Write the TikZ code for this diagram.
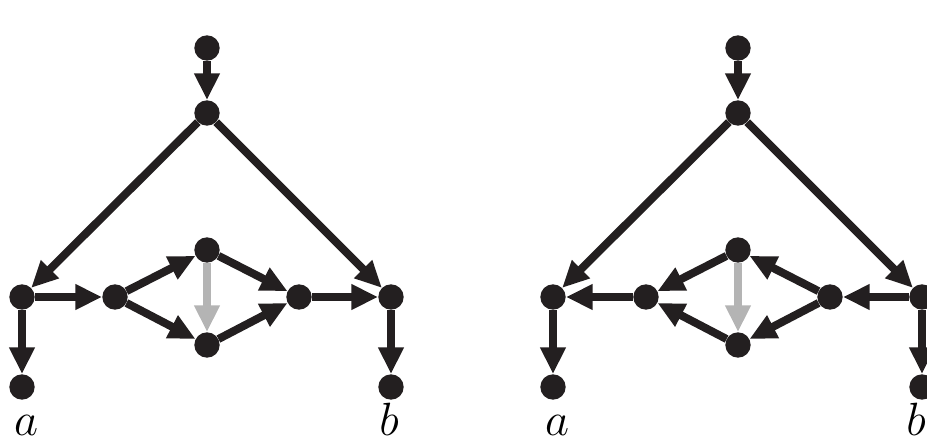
\documentclass[tikz,border=0pt]{standalone}
\usepackage{tikz}
\usetikzlibrary{arrows.meta,positioning}
\usepackage{xcolor}
\definecolor{ink}{RGB}{35,31,32}
\definecolor{greyline}{RGB}{180,180,180}

\begin{document}
\begin{tikzpicture}[
    x=0.03cm, y=-0.03cm,
    dot/.style={circle, fill=ink, inner sep=0pt, minimum size=0.76cm},
    edge/.style={draw=ink, line width=0.24cm, -{Triangle[length=0.8cm, width=0.72cm]}},
    greyedge/.style={edge, draw=greyline, -{Triangle[length=0.8cm, width=0.72cm, color=greyline]}},
    lbl/.style={anchor=base, inner sep=0pt, font=\Huge, scale=1.6}
]
\clip (0,0) rectangle (927,442);
\useasboundingbox (0,0) rectangle (927,442);

% Left graph
\node (top1) [dot] at (207,48) {};
\node (hub1) [dot] at (207,113) {};
\node (left1) [dot] at (22,297) {};
\node (right1) [dot] at (391,297) {};
\node (inl1) [dot] at (115,297) {};
\node (inr1) [dot] at (299,297) {};
\node (int1) [dot] at (207,250) {};
\node (inb1) [dot] at (207,345) {};
\node (a1) [dot] at (22,387) {};
\node (b1) [dot] at (391,387) {};
\node [lbl] at (26,435) {$a$};
\node [lbl] at (389,435) {$b$};

\draw[edge] (top1) -- (hub1);
\draw[edge] (hub1) -- (left1);
\draw[edge] (hub1) -- (right1);
\draw[edge] (left1) -- (inl1);
\draw[edge] (inl1) -- (int1);
\draw[edge] (inl1) -- (inb1);
\draw[edge] (int1) -- (inr1);
\draw[edge] (inb1) -- (inr1);
\draw[edge] (inr1) -- (right1);
\draw[greyedge] (int1) -- (inb1);
\draw[edge] (left1) -- (a1);
\draw[edge] (right1) -- (b1);

% Right graph
\node (top2) [dot] at (738,48) {};
\node (hub2) [dot] at (738,113) {};
\node (left2) [dot] at (553,297) {};
\node (right2) [dot] at (922,297) {};
\node (inl2) [dot] at (646,297) {};
\node (inr2) [dot] at (830,297) {};
\node (int2) [dot] at (738,250) {};
\node (inb2) [dot] at (738,345) {};
\node (a2) [dot] at (553,387) {};
\node (b2) [dot] at (922,387) {};
\node [lbl] at (557,435) {$a$};
\node [lbl] at (916,435) {$b$};

\draw[edge] (top2) -- (hub2);
\draw[edge] (hub2) -- (left2);
\draw[edge] (hub2) -- (right2);
\draw[edge] (right2) -- (inr2);
\draw[edge] (inr2) -- (int2);
\draw[edge] (inr2) -- (inb2);
\draw[edge] (int2) -- (inl2);
\draw[edge] (inb2) -- (inl2);
\draw[edge] (inl2) -- (left2);
\draw[greyedge] (int2) -- (inb2);
\draw[edge] (left2) -- (a2);
\draw[edge] (right2) -- (b2);

\end{tikzpicture}
\end{document}
